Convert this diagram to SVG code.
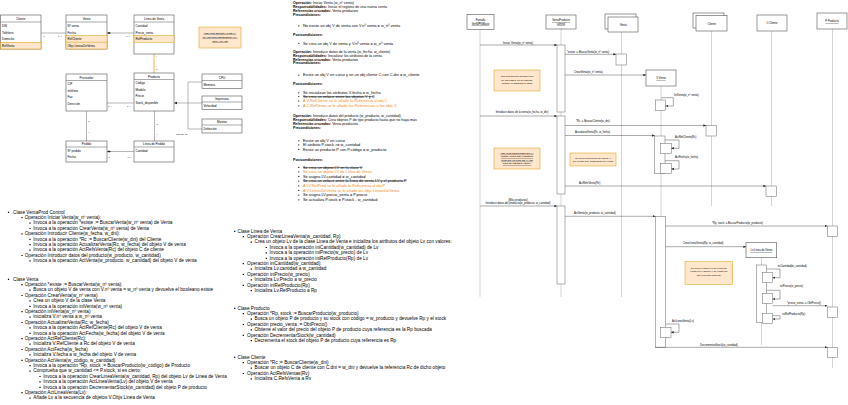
<svg xmlns="http://www.w3.org/2000/svg" width="848" height="405" viewBox="0 0 848 405">
<style>
text{font-family:"Liberation Sans",Arial,sans-serif;fill:#000}
.c{font-size:3px}
.cc{font-size:3px;text-anchor:middle}
.k{font-size:2.4px}
.bx{fill:#fff;stroke:#555;stroke-width:0.6}
.hl{fill:#FFE6CC;stroke:#D79B00;stroke-width:0.5}
.sep{stroke:#555;stroke-width:0.5}
.ln{fill:none;stroke:#888;stroke-width:0.6}
.ol{fill:none;stroke:#F0A030;stroke-width:0.8}
.m{font-size:3.6px}
.mb{font-size:3.9px}
.bd{font-weight:bold}
.or{fill:#F5891F}
.st{text-decoration:line-through}
.l{font-size:4.7px}
.s{font-size:2.7px}
.sc{font-size:2.7px;text-anchor:middle}
.u{text-decoration:underline}
.lf{stroke:#aaa;stroke-width:0.5}
.ac{fill:#fff;stroke:#666;stroke-width:0.5}
.ms{fill:none;stroke:#444;stroke-width:0.45;marker-end:url(#a)}
.nt{fill:#FFE6CC;stroke:#D79B00;stroke-width:0.5}
.nc{font-size:2.5px;text-anchor:middle}
</style>
<defs>
<marker id="a" markerUnits="userSpaceOnUse" markerWidth="3" markerHeight="3" refX="2.6" refY="1.2" orient="auto"><path d="M0,0L2.6,1.2L0,2.4z" fill="#222"/></marker>
</defs>
<rect width="848" height="405" fill="#fff"/>

<!-- ===== Class diagram ===== -->
<g id="class-connectors">
<line class="ln" x1="41" y1="33" x2="66" y2="33"/>
<line class="ln" x1="107" y1="33" x2="134" y2="33"/>
<path d="M107,33l2,-1l2,1l-2,1z" fill="#222"/>
<line class="ol" x1="154" y1="54" x2="154" y2="73"/>
<line class="ln" x1="107" y1="103" x2="134" y2="103"/>
<line class="ln" x1="86.5" y1="111" x2="86.5" y2="141"/>
<line class="ln" x1="154.5" y1="111" x2="154.5" y2="141"/>
<line class="ln" x1="107" y1="151.5" x2="134" y2="151.5"/>
<path d="M107,151.5l2,-1l2,1l-2,1z" fill="#222"/>
<path class="ln" d="M174,103H202M188,82V129M188,82H202M188,129H202"/>
<path d="M174,103l3,-1.3v2.6z" fill="#222"/>
<text class="k" x="43.5" y="36.5">1</text>
<text class="k" x="58" y="36.5">1..*</text>
<text class="k" x="126" y="36.5">1..*</text>
<text class="k" x="156" y="57">*</text>
<text class="k" x="156" y="70">1</text>
<text class="k" x="108" y="106.8">1..*</text>
<text class="k" x="127" y="106.8">1..*</text>
<text class="k" x="88.3" y="122">1</text>
<text class="k" x="88.3" y="133">*</text>
<text class="k" x="156.5" y="124.5">1</text>
<text class="k" x="156.5" y="134.5">*</text>
<text class="k" x="108.5" y="157.5">1</text>
<text class="k" x="127.5" y="157.5">1..*</text>
<text class="k" x="176" y="134.5">Tipo {D, C}</text>
</g>

<g id="cliente">
<rect class="bx" x="0.5" y="15" width="40.5" height="34"/>
<line class="sep" x1="0.5" y1="22" x2="41" y2="22"/>
<rect class="hl" x="0.5" y="42.25" width="40.5" height="6.75"/>
<text class="cc" x="20.7" y="19.8">Cliente</text>
<text class="c" x="2" y="26.8">DNI</text>
<text class="c" x="2" y="33.5">Teléfono</text>
<text class="c" x="2" y="40.2">Domicilio</text>
<text class="c" x="2" y="47">RefVenta</text>
</g>
<g id="venta">
<rect class="bx" x="66" y="15" width="41" height="34"/>
<line class="sep" x1="66" y1="22" x2="107" y2="22"/>
<rect class="hl" x="66" y="35.5" width="41" height="13.5"/>
<line class="hl" x1="66" y1="42.25" x2="107" y2="42.25"/>
<text class="cc" x="86.5" y="19.8">Venta</text>
<text class="c" x="67.5" y="26.8">Nº venta</text>
<text class="c" x="67.5" y="33.5">Fecha</text>
<text class="c" x="67.5" y="40.2">RefCliente</text>
<text class="c" x="67.5" y="47">Objs LineasDeVenta</text>
</g>
<g id="linea-venta">
<rect class="bx" x="134" y="15" width="40" height="39"/>
<line class="sep" x1="134" y1="22" x2="174" y2="22"/>
<rect class="hl" x="134" y="35.5" width="40" height="6.75"/>
<text class="cc" x="154" y="19.8">Línea de Venta</text>
<text class="c" x="135.5" y="26.8">Cantidad</text>
<text class="c" x="135.5" y="33.5">Precio_venta</text>
<text class="c" x="135.5" y="40.2">RefProducto</text>
</g>
<g id="nota-clase">
<rect class="nt" x="199" y="27" width="42" height="21"/>
<text class="nc u" x="220" y="33.5">VER QUE ESTUDIAR DE LA</text>
<text class="nc u" x="220" y="37.5">CLASE CON REFERENCIAS A</text>
<text class="nc u" x="220" y="41.5">OTRA CLASE</text>
</g>
<g id="proveedor">
<rect class="bx" x="66" y="74" width="41" height="37"/>
<line class="sep" x1="66" y1="80.5" x2="107" y2="80.5"/>
<text class="cc" x="86.5" y="78.5">Proveedor</text>
<text class="c" x="67.5" y="85.3">CIF</text>
<text class="c" x="67.5" y="91.8">teléfono</text>
<text class="c" x="67.5" y="98.3">Fax</text>
<text class="c" x="67.5" y="104.8">Dirección</text>
</g>
<g id="producto">
<rect class="bx" x="134" y="73" width="40" height="38"/>
<line class="sep" x1="134" y1="79.5" x2="174" y2="79.5"/>
<text class="cc" x="154" y="77.5">Producto</text>
<text class="c" x="135.5" y="84.3">Código</text>
<text class="c" x="135.5" y="90.8">Modelo</text>
<text class="c" x="135.5" y="97.3">Precio</text>
<text class="c" x="135.5" y="103.8">Stock_disponible</text>
</g>
<g id="cpu">
<rect class="bx" x="202" y="74" width="40" height="14.5"/>
<line class="sep" x1="202" y1="80.5" x2="242" y2="80.5"/>
<text class="cc" x="222" y="78.5">CPU</text>
<text class="c" x="203.5" y="85.5">Memoria</text>
</g>
<g id="impresora">
<rect class="bx" x="202" y="96" width="40" height="13.5"/>
<line class="sep" x1="202" y1="102" x2="242" y2="102"/>
<text class="cc" x="222" y="100.3">Impresora</text>
<text class="c" x="203.5" y="106.8">Velocidad</text>
</g>
<g id="monitor">
<rect class="bx" x="202" y="119" width="40" height="14"/>
<line class="sep" x1="202" y1="125" x2="242" y2="125"/>
<text class="cc" x="222" y="123.3">Monitor</text>
<text class="c" x="203.5" y="130">Definición</text>
</g>
<g id="pedido">
<rect class="bx" x="66" y="141" width="41" height="21"/>
<line class="sep" x1="66" y1="147" x2="107" y2="147"/>
<text class="cc" x="86.5" y="145.3">Pedido</text>
<text class="c" x="67.5" y="151.8">Nº pedido</text>
<text class="c" x="67.5" y="158.3">Fecha</text>
</g>
<g id="linea-pedido">
<rect class="bx" x="134" y="141" width="40" height="21"/>
<line class="sep" x1="134" y1="147" x2="174" y2="147"/>
<text class="cc" x="154" y="145.3">Línea de Pedido</text>
<text class="c" x="135.5" y="151.8">Cantidad</text>
</g>

<!-- ===== Contracts text ===== -->
<g id="contratos">
<text class="m" x="293" y="4.2"><tspan class="bd">Operación:</tspan> Iniciar Venta (w_nº venta)</text>
<text class="m" x="293" y="8.2"><tspan class="bd">Responsabilidades:</tspan> Iniciar el registro de una nueva venta</text>
<text class="m" x="293" y="12.2"><tspan class="bd">Referencias cruzadas:</tspan> Venta productos</text>
<text class="m" x="293" y="16.2"><tspan class="bd">Precondiciones:</tspan></text>
<text class="mb" x="303" y="27">No existe un obj V de venta con V.nº venta = w_nº venta</text>
<text class="m" x="293" y="35.5"><tspan class="bd">Postcondiciones:</tspan></text>
<text class="mb" x="303" y="44.5">Se crea un obj V de venta y V.nº venta = w_nº venta</text>
<text class="m" x="293" y="53"><tspan class="bd">Operación:</tspan> Introducir datos de la venta (w_fecha, w_cliente)</text>
<text class="m" x="293" y="56.8"><tspan class="bd">Responsabilidades:</tspan> Inicializar los atributos de la venta</text>
<text class="m" x="293" y="60.6"><tspan class="bd">Referencias cruzadas:</tspan> Venta productos</text>
<text class="m" x="293" y="64.4"><tspan class="bd">Precondiciones:</tspan></text>
<text class="mb" x="303" y="76.3">Existe un obj V en curso y un un obj cliente C con C.dni = w_cliente</text>
<text class="m" x="293" y="85.3"><tspan class="bd">Postcondiciones:</tspan></text>
<text class="mb" x="303" y="94">Se inicializan los atributos V.fecha = w_fecha</text>
<text class="mb st" x="303" y="97.7">Se crea un enlace entre los objetos V y C</text>
<text class="mb or" x="303" y="102.2">A V.RefCliente se le añade la Referencia al obj C</text>
<text class="mb or" x="303" y="107">A C.RefVenta se le añade las Referencias a los objs V</text>
<text class="m" x="293" y="117.3"><tspan class="bd">Operación:</tspan> Introducir datos del producto (w_producto, w_cantidad)</text>
<text class="m" x="293" y="121.3"><tspan class="bd">Responsabilidades:</tspan> Crea objetos P de tipo producto hasta que no haya más</text>
<text class="m" x="293" y="125.3"><tspan class="bd">Referencias cruzadas:</tspan> Venta productos</text>
<text class="m" x="293" y="129.3"><tspan class="bd">Precondiciones:</tspan></text>
<text class="mb" x="303" y="142">Existe un obj V en curso</text>
<text class="mb" x="303" y="146">El atributo P.stock &gt;= w_cantidad</text>
<text class="mb" x="303" y="150.6">Existe un producto P con P.código = w_producto</text>
<text class="m" x="293" y="160.6"><tspan class="bd">Postcondiciones:</tspan></text>
<text class="mb st" x="303" y="168.6">Se crea un objeto LV en la clase V</text>
<text class="mb or" x="303" y="173">Se crea un objeto LV de Línea de Venta</text>
<text class="mb" x="303" y="177.6">Se asigna LV.cantidad = w_cantidad</text>
<text class="mb st" x="303" y="182.3">Se crea un enlace entre la línea de venta LV y el producto P</text>
<text class="mb or" x="303" y="187">A LV.RefProd se le añade la Referencia al obj P</text>
<text class="mb or" x="303" y="191.6">A V.LineasDeVenta se le añade los objs LineasDeVenta</text>
<text class="mb" x="303" y="196.3">Se asigna LV.precio_venta = P.precio</text>
<text class="mb" x="303" y="201">Se actualiza P.stock = P.stock - w_cantidad</text>
<g fill="#000">
<circle cx="298.8" cy="25.8" r="0.6"/><circle cx="298.8" cy="43.3" r="0.6"/><circle cx="298.8" cy="75.1" r="0.6"/>
<circle cx="298.8" cy="92.8" r="0.6"/><circle cx="298.8" cy="96.5" r="0.6"/><circle cx="298.8" cy="101" r="0.6"/><circle cx="298.8" cy="105.8" r="0.6"/>
<circle cx="298.8" cy="140.8" r="0.6"/><circle cx="298.8" cy="144.8" r="0.6"/><circle cx="298.8" cy="149.4" r="0.6"/>
<circle cx="298.8" cy="167.4" r="0.6"/><circle cx="298.8" cy="171.8" r="0.6"/><circle cx="298.8" cy="176.4" r="0.6"/><circle cx="298.8" cy="181.1" r="0.6"/>
<circle cx="298.8" cy="185.8" r="0.6"/><circle cx="298.8" cy="190.4" r="0.6"/><circle cx="298.8" cy="195.1" r="0.6"/><circle cx="298.8" cy="199.8" r="0.6"/>
</g>
</g>

<!-- ===== Left list ===== -->
<g id="lista-izq">
<path fill="#000" d="M7.9,211.7h1.2v1.2h-1.2zM21.4,217.1h1.2v1.2h-1.2zM29.4,222.5h1.2v1.2h-1.2zM29.4,227.9h1.2v1.2h-1.2zM21.4,233.3h1.2v1.2h-1.2zM29.4,238.7h1.2v1.2h-1.2zM29.4,244.1h1.2v1.2h-1.2zM29.4,249.5h1.2v1.2h-1.2zM21.4,254.9h1.2v1.2h-1.2zM29.4,260.3h1.2v1.2h-1.2zM7.9,278.7h1.2v1.2h-1.2zM21.4,284.1h1.2v1.2h-1.2zM29.4,289.5h1.2v1.2h-1.2zM21.4,294.9h1.2v1.2h-1.2zM29.4,300.3h1.2v1.2h-1.2zM29.4,305.7h1.2v1.2h-1.2zM21.4,311.1h1.2v1.2h-1.2zM29.4,316.5h1.2v1.2h-1.2zM21.4,321.9h1.2v1.2h-1.2zM29.4,327.3h1.2v1.2h-1.2zM29.4,332.7h1.2v1.2h-1.2zM21.4,338.1h1.2v1.2h-1.2zM29.4,343.5h1.2v1.2h-1.2zM21.4,348.9h1.2v1.2h-1.2zM29.4,354.3h1.2v1.2h-1.2zM21.4,359.7h1.2v1.2h-1.2zM29.4,365.1h1.2v1.2h-1.2zM29.4,370.5h1.2v1.2h-1.2zM39.4,375.9h1.2v1.2h-1.2zM39.4,381.3h1.2v1.2h-1.2zM39.4,386.7h1.2v1.2h-1.2zM21.4,392.1h1.2v1.2h-1.2zM29.4,397.5h1.2v1.2h-1.2z"/>
<text class="l" x="13" y="213.6">Clase VentaProd Control</text>
<text class="l" x="24.7" y="219">Operación Iniciar Venta(w_nº venta):</text>
<text class="l" x="33.3" y="224.4">Invoca a la operación *existe := BuscarVenta(w_nº venta) de Venta</text>
<text class="l" x="33.3" y="229.8">Invoca a la operación CrearVenta(w_nº venta) de Venta</text>
<text class="l" x="24.7" y="235.2">Operación Introducir Cliente(w_fecha, w_dni):</text>
<text class="l" x="33.3" y="240.6">Invoca a la operación *Rc := BuscarCliente(w_dni) del Cliente</text>
<text class="l" x="33.3" y="246">Invoca a la operación ActualizarVenta(Rc, w_fecha) del objeto V de venta</text>
<text class="l" x="33.3" y="251.4">Invoca a la operación ActRefsVenta(Rc) del objeto C de cliente</text>
<text class="l" x="24.7" y="256.8">Operación Introducir datos del producto(w_producto, w_cantidad)</text>
<text class="l" x="33.3" y="262.2">Invoca a la operación ActVenta(w_producto, w_cantidad) del objeto V de venta</text>
<text class="l" x="13" y="280.6">Clase Venta</text>
<text class="l" x="24.7" y="286">Operación *existe := BuscarVenta(w_nº venta):</text>
<text class="l" x="33.3" y="291.4">Busca un objeto V de venta con V.nº venta = w_nº venta y devuelve el booleano existe</text>
<text class="l" x="24.7" y="296.8">Operación CrearVenta(w_nº venta)</text>
<text class="l" x="33.3" y="302.2">Crea un objeto V de la clase Venta</text>
<text class="l" x="33.3" y="307.6">Invoca a la operación iniVenta(w_nº venta)</text>
<text class="l" x="24.7" y="313">Operación iniVenta(w_nº venta)</text>
<text class="l" x="33.3" y="318.4">Inicializa V.nº venta a w_nº venta</text>
<text class="l" x="24.7" y="323.8">Operación ActualizarVenta(Rc, w_fecha)</text>
<text class="l" x="33.3" y="329.2">Invoca a la operación ActRefCliente(Rc) del objeto V de venta</text>
<text class="l" x="33.3" y="334.6">Invoca a la operación ActFecha(w_fecha) del objeto V de venta</text>
<text class="l" x="24.7" y="340">Operación ActRefCliente(Rc):</text>
<text class="l" x="33.3" y="345.4">Inicializa V.RefCliente a Rc del objeto V de venta</text>
<text class="l" x="24.7" y="350.8">Operación ActFecha(w_fecha)</text>
<text class="l" x="33.3" y="356.2">Inicializa V.fecha a w_fecha del objeto V de venta</text>
<text class="l" x="24.7" y="361.6">Operación ActVenta(w_código, w_cantidad)</text>
<text class="l" x="33.3" y="367">Invoca a la operación *Rp, stock := BuscarProducto(w_código) de Producto</text>
<text class="l" x="33.3" y="372.4">Comprueba que w_cantidad &lt;= P.stock, si es cierto:</text>
<text class="l" x="43.3" y="377.8">Invoca a la operación CrearLineaVenta(w_cantidad, Rp) del objeto Lv de Linea de Venta</text>
<text class="l" x="43.3" y="383.2">Invoca a la operación ActLineaVenta(Lv) del objeto V de venta</text>
<text class="l" x="43.3" y="388.6">Invoca a la operación DecrementarStock(w_cantidad) del objeto P de producto</text>
<text class="l" x="24.7" y="394">Operación ActLineaVenta(Lv):</text>
<text class="l" x="33.3" y="399.4">Añade Lv a la secuencia de objetos V.Objs Linea de Venta</text>
</g>

<!-- ===== Middle list ===== -->
<g id="lista-centro">
<path fill="#000" d="M234.1,230.7h1.2v1.2h-1.2zM242.7,236.1h1.2v1.2h-1.2zM250.7,241.5h1.2v1.2h-1.2zM265.7,246.9h1.2v1.2h-1.2zM265.7,252.3h1.2v1.2h-1.2zM265.7,257.7h1.2v1.2h-1.2zM242.7,263.1h1.2v1.2h-1.2zM250.7,268.5h1.2v1.2h-1.2zM242.7,273.9h1.2v1.2h-1.2zM250.7,279.3h1.2v1.2h-1.2zM242.7,284.7h1.2v1.2h-1.2zM250.7,290.1h1.2v1.2h-1.2zM234.1,307.7h1.2v1.2h-1.2zM242.7,313.1h1.2v1.2h-1.2zM250.7,318.5h1.2v1.2h-1.2zM242.7,323.9h1.2v1.2h-1.2zM250.7,329.3h1.2v1.2h-1.2zM242.7,334.7h1.2v1.2h-1.2zM250.7,340.1h1.2v1.2h-1.2zM234.1,356.7h1.2v1.2h-1.2zM242.7,362.1h1.2v1.2h-1.2zM250.7,367.5h1.2v1.2h-1.2zM242.7,372.9h1.2v1.2h-1.2zM250.7,378.3h1.2v1.2h-1.2z"/>
<text class="l" x="237.5" y="232.6">Clase Linea de Venta</text>
<text class="l" x="247" y="238">Operación CrearLineaVenta(w_cantidad, Rp)</text>
<text class="l" x="254.5" y="243.4">Crea un objeto Lv de la clase Linea de Venta  e inicializa los atributos del objeto Lv con valores:</text>
<text class="l" x="269.5" y="248.8">Invoca a la operación iniCantidad(w_cantidad) de Lv</text>
<text class="l" x="269.5" y="254.2">Invoca a la operación iniPrecio(w_precio) de Lv</text>
<text class="l" x="269.5" y="259.6">Invoca a la operación iniRefProducto(Rp) de Lv</text>
<text class="l" x="247" y="265">Operación iniCantidad(w_cantidad):</text>
<text class="l" x="254.5" y="270.4">Inicializa Lv.cantidad a w_cantidad</text>
<text class="l" x="247" y="275.8">Operación iniPrecio(w_precio)</text>
<text class="l" x="254.5" y="281.2">Inicializa Lv.Precio a w_precio</text>
<text class="l" x="247" y="286.6">Operación iniRefProducto(Rp)</text>
<text class="l" x="254.5" y="292">Inicializa Lv.RefProducto a Rp</text>
<text class="l" x="237.5" y="309.6">Clase Producto</text>
<text class="l" x="247" y="315">Operación *Rp, stock := BuscarProducto(w_producto)</text>
<text class="l" x="254.5" y="320.4">Busca un objeto P de producto y su stock  con código = w_producto  y devuelve Rp y el stock</text>
<text class="l" x="247" y="325.8">Operación precio_venta := ObtPrecio()</text>
<text class="l" x="254.5" y="331.2">Obtiene el valor del precio del objeto P de producto cuya referencia es la Rp buscada</text>
<text class="l" x="247" y="336.6">Operación DecrementarStock(w_cantidad)</text>
<text class="l" x="254.5" y="342">Decrementa el stock del objeto P de producto cuya referencia es Rp</text>
<text class="l" x="237.5" y="358.6">Clase Cliente</text>
<text class="l" x="247" y="364">Operación *Rc := BuscarCliente(w_dni)</text>
<text class="l" x="254.5" y="369.4">Buscar un objeto C de cliente con C.dni = w_dni y devuelve la referencia Rc de dicho objeto</text>
<text class="l" x="247" y="374.8">Operación ActRefsVentas(Rv)</text>
<text class="l" x="254.5" y="380.2">Inicializa C.RefsVenta a Rv</text>
</g>

<!-- ===== Sequence diagram ===== -->
<g id="lifelines">
<line class="lf" x1="480" y1="30" x2="480" y2="297"/>
<line class="lf" x1="561" y1="29" x2="561" y2="297"/>
<line class="lf" x1="621.5" y1="32" x2="621.5" y2="297"/>
<line class="lf" x1="661" y1="86" x2="661" y2="347"/>
<line class="lf" x1="711.5" y1="31" x2="711.5" y2="206"/>
<line class="lf" x1="771.5" y1="31" x2="771.5" y2="206"/>
<line class="lf" x1="832.5" y1="29" x2="832.5" y2="368"/>
<line class="lf" x1="761.5" y1="258" x2="761.5" y2="345"/>
</g>
<g id="pantalla">
<rect class="bx" x="467" y="14.5" width="27" height="15"/>
<text class="sc u" x="480.5" y="21">Pantalla</text>
<text class="sc u" x="480.5" y="24.5">VentaProducto</text>
</g>
<g id="ventaproducto-control">
<rect class="bx" x="546" y="15" width="30" height="14"/>
<text class="sc u" x="561" y="21">VentaProducto</text>
<text class="sc u" x="561" y="24.5">control</text>
<rect class="ac" x="557" y="45" width="8" height="67"/>
<rect class="ac" x="557" y="116" width="8" height="78"/>
<rect class="ac" x="557" y="206" width="8" height="78"/>
</g>
<g id="venta-multi">
<rect class="bx" x="605" y="14" width="31" height="15"/>
<rect class="bx" x="608" y="17" width="30" height="15"/>
<text class="sc" x="623" y="25.5">:Venta</text>
<rect class="ac" x="616" y="54" width="10.5" height="11"/>
</g>
<g id="cliente-multi">
<rect class="bx" x="693" y="13" width="31" height="15"/>
<rect class="bx" x="696" y="15.5" width="31" height="15.5"/>
<text class="sc" x="711.5" y="24.5">:Cliente</text>
<rect class="ac" x="706" y="125.7" width="10.7" height="10.3"/>
</g>
<g id="c-cliente">
<rect class="bx" x="757" y="15" width="30" height="16"/>
<text class="sc" x="772" y="24">C:Cliente</text>
<rect class="ac" x="766" y="186" width="10.7" height="10.7"/>
</g>
<g id="p-producto">
<rect class="bx" x="817" y="13" width="30" height="16"/>
<text class="sc u" x="832" y="22">P:Producto</text>
<rect class="ac" x="827.3" y="226" width="10.4" height="10.3"/>
<rect class="ac" x="827.3" y="307" width="10.4" height="10.3"/>
<rect class="ac" x="827.3" y="347.3" width="10.4" height="10"/>
</g>
<g id="v-venta">
<rect class="bx" x="646" y="70" width="30" height="16"/>
<text class="sc u" x="661" y="79">V:Venta</text>
<rect class="ac" x="655.3" y="100" width="10.4" height="10.7"/>
<rect class="ac" x="654.7" y="136" width="10.3" height="37.3"/>
<rect class="ac" x="660.7" y="143.3" width="10.6" height="10"/>
<rect class="ac" x="660.7" y="163.3" width="10.6" height="10"/>
<rect class="ac" x="655.3" y="216.3" width="10.4" height="131"/>
<rect class="ac" x="660.7" y="327.3" width="10.3" height="10"/>
</g>
<g id="lv-linea-venta">
<rect class="bx" x="746" y="242.7" width="30.7" height="15"/>
<text class="sc u" x="761.3" y="251.3">Lv:Línea de Venta</text>
<rect class="ac" x="756.3" y="265" width="10.4" height="57.7"/>
<rect class="ac" x="762.3" y="272.3" width="10.4" height="10.4"/>
<rect class="ac" x="762.3" y="293.3" width="10.4" height="10"/>
<rect class="ac" x="762.3" y="313.3" width="10.4" height="10"/>
</g>
<g id="notas-secuencia">
<rect class="nt" x="494" y="70" width="46" height="21"/>
<text class="nc" x="517" y="77">Las operaciones siempre son</text>
<text class="nc" x="517" y="80.6">de las clases, no de objetos,</text>
<text class="nc" x="517" y="84.2">aunque lo hagamos a estos</text>
<rect class="nt" x="494" y="148" width="46" height="21"/>
<text class="nc u" x="517" y="153.8">VER QUE DESCRIBIR EN LA</text>
<text class="nc u" x="517" y="157.3">OPERACIÓN DEL MODELO</text>
<text class="nc u" x="517" y="160.8">QUE ES LO QUE SE HACE</text>
<text class="nc u" x="517" y="164.3">CON EL OBJETO VENTA</text>
<rect class="nt" x="570" y="153" width="46" height="13"/>
<text class="nc" x="593" y="158.5">Rc es la Referencia del objeto V</text>
<text class="nc" x="593" y="162">del cliente que pasaremos por venta</text>
<rect class="nt" x="685" y="261.7" width="47.7" height="22.6"/>
<text class="nc" x="708.8" y="268.5">Se crea el objeto Lv de Línea de</text>
<text class="nc" x="708.8" y="272">Venta en el Objeto V de venta por</text>
<text class="nc" x="708.8" y="275.5">eso la flecha llega ahí</text>
</g>
<g id="messages">
<line class="ms" x1="480" y1="45" x2="557" y2="45"/>
<text class="sc" x="518" y="43.5">Iniciar Venta(w_nº venta)</text>
<line class="ms" x1="565" y1="54.3" x2="616" y2="54.3"/>
<text class="s" x="567" y="52.5">*existe := BuscarVenta(w_nº venta)</text>
<line class="ms" x1="565" y1="75" x2="646" y2="75"/>
<text class="s" x="574" y="72.5">CrearVenta(w_nº venta)</text>
<path class="ms" d="M661,97.7H673.3V106H665.7"/>
<text class="s" x="674" y="95.5">IniVenta(w_nº venta)</text>
<line class="ms" x1="480" y1="116" x2="557" y2="116"/>
<text class="sc" x="522" y="113.3">Introducir datos de la venta(w_fecha, w_dni)</text>
<line class="ms" x1="565" y1="125.5" x2="706" y2="125.5"/>
<text class="s" x="576" y="122">*Rc := BuscarCliente(w_dni)</text>
<line class="ms" x1="565" y1="135.5" x2="654.7" y2="135.5"/>
<text class="s" x="575" y="133">ActualizarVenta(Rc, w_fecha)</text>
<path class="ms" d="M665,140H679V148.3H671.3"/>
<text class="s" x="675" y="138">ActRefCliente(Rc)</text>
<path class="ms" d="M665,160.7H679V169H671.3"/>
<text class="s" x="675" y="158">ActFecha(w_fecha)</text>
<line class="ms" x1="565" y1="186" x2="766" y2="186"/>
<text class="s" x="579" y="184">ActRefsVenta(Rv)</text>
<line class="ms" x1="480" y1="206" x2="557" y2="206"/>
<text class="sc" x="518" y="200.5">[Más productos]</text>
<text class="sc" x="518" y="204">Introducir datos del producto(w_producto, w_cantidad)</text>
<line class="ms" x1="565" y1="216.3" x2="655.3" y2="216.3"/>
<text class="s" x="574" y="214.3">ActVenta(w_producto, w_cantidad)</text>
<line class="ms" x1="665.7" y1="226" x2="827.3" y2="226"/>
<text class="s" x="712" y="223.8">*Rp, stock := BuscarProducto(w_producto)</text>
<line class="ms" x1="665.7" y1="246.7" x2="746" y2="246.7"/>
<text class="s" x="683" y="244">CrearLineaVenta(Rp, w_cantidad)</text>
<path class="ms" d="M766.7,269H780V277.7H772.7"/>
<text class="s" x="777.7" y="267.2">iniCantidad(w_cantidad)</text>
<path class="ms" d="M766.7,290.3H780V299H772.7"/>
<text class="s" x="780" y="287.2">iniPrecio(w_precio)</text>
<line class="ms" x1="772.7" y1="305.7" x2="827.3" y2="305.7"/>
<text class="s" x="787" y="304.3">*precio_venta := ObtPrecio()</text>
<path class="ms" d="M772.7,315.7H780V319H772.7"/>
<text class="s" x="782.3" y="314.8">iniRefProducto(Rp)</text>
<path class="ms" d="M665.7,324H679V332.3H671"/>
<text class="s" x="672" y="322.2">ActLineaVenta(Lv)</text>
<line class="ms" x1="655.3" y1="347.3" x2="827.3" y2="347.3"/>
<text class="s" x="700" y="345.5">DecrementarStock(w_cantidad)</text>
</g>
</svg>
